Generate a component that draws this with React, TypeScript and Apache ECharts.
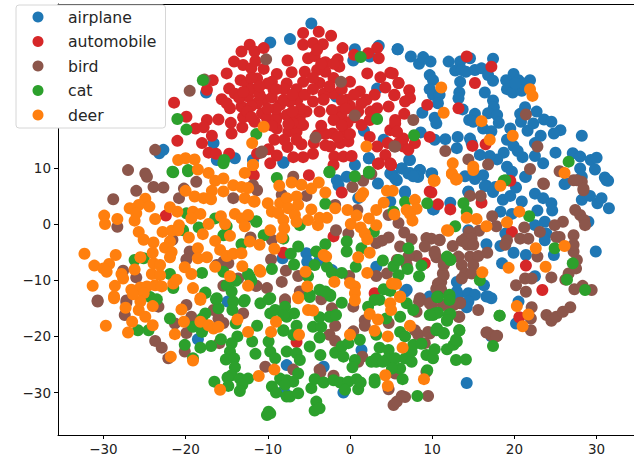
import React, { useEffect, useRef } from "react";
import * as echarts from "echarts";

const classNames = ["airplane", "automobile", "bird", "cat", "deer"];
const xTicks = [-30, -20, -10, 0, 10, 20, 30];
const yTicks = [-30, -20, -10, 0, 10];

const airplane = [[5.8,31.1],[7.4,29.8],[8.4,28.5],[8.9,29.7],[9.8,28.9],[12,28.9],[13.4,28.9],[14.6,29.5],[17.4,29.4],[12.8,27.3],[13.6,27.4],[14.1,27.1],[13.4,25.3],[15.2,27.4],[16,27.7],[16.8,26.5],[17.4,25.5],[9.7,26.5],[10.1,25.6],[9.7,24],[10.1,23],[10.9,23],[10.7,21.5],[8.8,19.8],[10.3,18.9],[10.5,17.9],[13.3,23.4],[13.2,22.4],[13.7,20.4],[16.4,23.4],[17.4,22],[17.5,20.8],[15.2,19.6],[14.5,18.5],[15,18.2],[16.8,19.7],[17.9,19.4],[18.1,18],[16.2,17],[17.2,16.5],[19.9,26.7],[19,25.6],[20.5,25.6],[21.9,25.6],[19.1,24],[19.8,23.4],[21.1,25],[20.9,23.7],[20.1,25],[21.3,20.8],[22.7,20],[20.7,19.6],[20.8,18.2],[21.6,16.6],[22.3,17.9],[23.6,18.6],[24.5,18.2],[25.6,16.7],[24.8,16.1],[19.5,17],[19.1,15],[22.5,14.4],[23.2,15.7],[28.2,15.7],[19.9,13.9],[20.4,13],[21,11.9],[22.5,12.1],[23.5,10.8],[25,12.7],[27.1,12.6],[28,12],[29.3,11.4],[30,11.8],[28,9.9],[29.8,9.7],[28.2,8.4],[31,8.3],[31.4,7.7],[26.2,7.2],[21.3,8.4],[19.1,10.2],[19.7,9.3],[18.7,12.7],[17.9,11.5],[17,12.1],[15.8,12.3],[14.6,15.2],[14.8,14.4],[13.1,15.5],[13,13.5],[11.6,15.1],[10.3,15],[8.6,16.3],[7.3,11.4],[6.3,9.9],[7.3,9.1],[8.5,9.6],[8.2,8.4],[10,9],[14,8.5],[15.2,8],[16.2,8.7],[16.6,6.8],[17.7,6.6],[14.4,5.8],[5.2,8.7],[5.7,7.8],[6.7,5.8],[16.4,6.75],[17.4,5.7],[18.6,4.3],[19.5,5],[20.2,6.5],[21.4,8.4],[20.9,4],[22.5,5.4],[23.5,4.6],[24.5,3.7],[24.6,2.4],[22.8,2.4],[18.3,2.2],[19.7,1.8],[14.4,5.7],[12.2,3.8],[10.2,2.6],[22.5,-0.2],[23.7,0.4],[23.9,-1.7],[23.7,-2.9],[18.9,-1.7],[18.3,-3.9],[19.9,-5.1],[21.4,-5.5],[18.5,-7],[22.5,-9.3],[24.8,-5.5],[29.9,-4.9],[28.2,4.3],[30.1,3.7],[30.6,4.6],[31.5,2.8],[29.2,5],[29,0.4],[26.1,7.1],[31.2,7.8],[16.6,-3.6],[14.4,-1.1],[13,-10.3],[16.3,-10.9],[13,-12],[13.2,-12.6],[14.4,-12.3],[15.2,-12.6],[16.6,-12.9],[17.2,-13.2],[14.4,-13.8],[14.2,-14.8],[20.5,-13.8],[20.2,-17.7],[9.7,-13],[-4.7,35.7],[-7.3,32.9],[-9.7,32.3],[0.6,31.1],[3.5,31.7],[5.8,31.1],[0.4,29.1],[2.4,29.8],[-17.5,23.4],[3.3,24.1],[1.7,16.6],[-16.6,14.4],[-16.2,11.4],[-14,11.7],[-8.1,11],[-11.8,11.4],[0.6,10.5],[2.3,11.7],[4.1,15],[-1.7,22.7],[-22.7,13.2],[-23.2,12.6],[-8.1,10.9],[2.3,11.7],[7.2,11.4],[-1.6,7.8],[-1.4,6.9],[-0.4,8.4],[6.3,9.9],[4.9,9],[5.5,8.1],[7.1,9],[8.5,9.6],[8.3,8.4],[7.7,8.5],[9.9,9],[3.4,7.2],[6.7,5.5],[4.9,4],[10.1,2.6],[1,4.6],[-5.3,-5.2],[-5.2,-6.7],[-8.2,-6.1],[3.2,-7.6],[-2.2,-8.2],[-3.7,-6.4],[6.9,-11.7],[-18.5,-20.5],[-14.9,-13.8],[-7.7,-25.1],[-7.9,-30.1],[14.2,-28.3],[-0.8,-30],[-3.2,-25.4],[1.4,-22.4],[-8.1,-29.8],[6.7,-12],[9.7,-12.9],[16.8,-12.9],[20.4,-17.5],[17.2,-20]];

const automobile = [[-21.4,21.6],[-19.9,19.1],[-21,14.8],[-18,14.4],[-16.8,15.7],[-17.2,12.7],[-16.3,12.5],[-14.7,12.5],[-17.4,18.5],[-16,18.6],[-18.8,17],[-17.8,17.2],[-14.5,18],[-14.4,16.1],[-13.1,17.2],[-15.6,22.2],[-14.7,24.1],[-14.6,20.6],[-13.2,20.9],[-14,23.2],[-13.3,25.6],[-12.5,25],[-11.3,25.9],[-15,26.8],[-14.1,28.9],[-13.2,30.7],[-12.2,31.9],[-11.6,30.7],[-10.5,31.3],[-13,28.3],[-12,27.7],[-10.5,27.6],[-8.9,26.7],[-9.5,25.3],[-7.7,25],[-7.1,27],[-7.6,29.1],[-5.7,34],[-5.7,31.9],[-3.8,34.2],[-4.5,32.2],[-3.3,32],[-2.3,33.5],[-5.1,29.5],[-4.3,29.9],[-3,28.8],[-1.5,29.3],[-0.9,31.3],[-1.3,28],[-5.5,27.1],[-4,27.4],[-3,27.1],[-5.7,25.3],[-3.7,25.1],[0.5,30.1],[3.3,31.3],[3.5,29.5],[2.2,30.4],[2.1,26.8],[3.7,26.1],[4.9,26.9],[5.9,25.1],[4.3,24.3],[5.4,23],[-2,23.2],[-3.2,23.2],[0,25.3],[1.2,23.6],[-0.4,22.1],[2,22.1],[1.4,21.5],[4.7,20.9],[3.3,20.6],[2.4,18.5],[1.4,17.6],[-1.2,20],[-2.2,20.3],[-3.7,20],[-4.5,21.8],[-3.2,22.1],[-5.3,20],[-6.1,19.1],[-6.4,22.1],[-7.3,21.8],[-8.5,21.2],[-7.7,19.4],[-8.9,19.1],[-10.5,22.1],[-11.3,21.5],[-10.7,19.7],[-11.6,18.2],[-10.1,18.8],[-8.9,17],[-5.7,17.6],[-7.5,16.4],[-6.5,16.4],[-9.2,15],[-5.9,14.2],[-7.6,13.7],[-4.4,14.4],[-4,15.8],[-2.1,16.1],[-0.7,16.3],[-2.4,13.8],[-1.2,14.4],[-0.2,14.7],[-1.9,12],[-0.8,12],[0.2,12.1],[-2,10.5],[-4.5,12.5],[-5.7,11.9],[-6.9,11.9],[-8.9,12.2],[-9.9,13.3],[-11.3,12.5],[-9.7,10.8],[2.4,15.5],[3.3,13.8],[4.3,12.3],[3.5,10.8],[4.9,10.8],[4.6,14.4],[5.5,18.5],[4.9,16.7],[5.7,16.4],[5.9,14.4],[6.5,13.8],[-12.4,22.7],[-9.3,23.9],[-8.1,22.1],[-17.4,23.9],[-16.7,25.6],[-12,24],[-10,25],[-11,23],[-8,24],[-6.5,24],[-2,26],[-1,24],[0,21],[-1,19],[0.5,19],[-0.3,18],[-9,20.5],[-6,18],[-7,18],[-9,18.5],[-12,21],[-13.5,22.5],[-15,21.5],[-2,18.5],[-3,16],[-3.5,28.5],[-13,19],[-12.5,20],[-12,19],[-10,20.5],[-9.5,22.5],[-11,24.5],[-9,24],[-7,23],[-5.5,23],[-4.5,24],[-2.5,24.5],[-1,22],[0.5,23],[-0.5,20.5],[-1,17.5],[0,16],[1,20],[2.5,20],[3,23],[-6,20.5],[-7,20],[-9.5,17.5],[-7.5,17.8],[-6.5,15],[-8,15],[-3,14],[-1.5,15.5],[-3.5,17.5],[-13,23.5],[-12,26],[-11.5,29],[-4.5,26],[-2,28.5],[-4,31],[14.2,29.8],[17.2,28],[15.2,25.1],[13.2,20.6],[9.4,21.2],[7.2,23.8],[7.3,22.4],[6.7,21.8],[6.6,19.6],[5.9,25.1],[5.2,26.8],[5.4,22.9],[5.5,17.9],[6.5,15.2],[7.9,14.4],[7.1,13.2],[9.7,15.5],[14.9,13.9],[16.5,14.2],[19.5,7.7],[9.7,5.8],[5,10.5],[5.7,16.4],[10.7,3.5],[12.2,2.6],[16,3.8],[19.7,-1.4],[21.4,-7.4],[23.4,-11.75],[20.6,-16.6],[9.9,5.6],[-5,8.7],[-1,5.6],[3.4,10.7],[4.9,10.7],[-2,-2.2],[-8.1,-5.1],[3,-12.3],[-11.7,8.7],[9.1,-7],[-22.4,1.5],[-6.5,-21]];

const bird = [[23.6,7.1],[27.2,7.8],[28.2,7.5],[28.4,6],[14.6,5],[15.9,5],[27.4,2.5],[28,1.6],[28.5,0.7],[28.6,-0.2],[25.9,0.4],[24.9,-0.2],[17.3,1.4],[17.8,-0.4],[15.7,-1.2],[14.5,-1.4],[14,-2.6],[14.8,-2.6],[13.6,-3],[14.3,-3.7],[15,-3.7],[12.5,-3.9],[10.9,-2.9],[9.9,-2.6],[10.3,-4.9],[10.5,-5.9],[11.5,-7],[13.2,-5.8],[14.6,-5.8],[15.6,-5.7],[16.7,-5.1],[15,-7.3],[13.6,-7.3],[14,-8.8],[14.8,-8.8],[13.6,-9.7],[11.3,-8.8],[11.1,-10.3],[10.5,-11.5],[13.4,-14],[12.4,-14.4],[11.3,-14.4],[9.9,-14.4],[13.2,-16.5],[15.6,-15.3],[16.6,-19.3],[17.2,-19.8],[17.9,-19.9],[9.7,-19.5],[20.2,-10.9],[21.4,-12.05],[21.3,-9.7],[22.1,-9.7],[24.5,-9.5],[22.1,-14.8],[22,-16.8],[22,-18.9],[23.9,-16.2],[24.5,-17.2],[25.1,-16.5],[25.9,-15.6],[26.8,-14.8],[26.2,-9.9],[27.3,-11.6],[28.3,-11],[29.4,-11.75],[26.6,-8.8],[27.5,-7.9],[27.6,-6.4],[27.2,-4.9],[27.2,-2],[27.2,-3.7],[25.5,-2.3],[25.1,-2.3],[23.1,-1.4],[21.2,-0.6],[20.7,-2.6],[21.7,-2.6],[19.1,-2.9],[18.9,-3.7],[22.8,-5.8],[7.7,18.5],[5.5,13.8],[11.6,13],[14.4,11.5],[16.8,10.6],[21.4,19.5],[22.8,13.8],[21.9,9.8],[25.5,9.4],[23.5,7.2],[27.6,7.8],[28.4,6.3],[-10.2,29.3],[-19.5,23.7],[-17.7,25.7],[-1.1,25.3],[0.6,19.3],[-4.2,15.4],[-10.7,12.9],[5.4,13.8],[-23.7,13.2],[-27,9.6],[-24.9,9],[-24.7,8.4],[-23.9,6.6],[-22.7,6.5],[-26,5.9],[-28.8,4.4],[-20.2,6.3],[-20.8,4.6],[-18.7,7.5],[-14.2,4.6],[-28.3,-0.5],[-21.6,-2.8],[-19.5,-4.9],[-19.9,-6.3],[-27.6,-8.3],[-26,-9.5],[-30.7,-13.6],[-14.8,-7],[-15.4,-6.7],[-16.2,-7.3],[-12.4,1.3],[-12.1,-2.4],[-13.6,-9.7],[-15.4,-11],[-11.4,-11],[-11.8,6.9],[-27.2,-13.6],[-10.8,12.7],[-6.9,8.4],[0.3,6.6],[1.6,7.7],[2.6,8.9],[-11.3,6],[-8.3,5.2],[-5.3,5],[-1.7,-1.1],[-0.2,-1.7],[-1.8,3.4],[0.9,2.5],[4.7,1.6],[5.9,0.2],[6.6,-1.5],[3.2,-3.4],[4.7,-2.4],[3.9,-2.96],[6.1,-4],[7.5,-2.7],[9.3,-2.5],[9.1,-4],[10.9,-2.8],[10.3,-5.2],[8.1,-5.7],[7.1,-5.8],[5.7,-6.4],[4.5,-8.8],[3.2,-9.25],[6.9,-7.3],[-9.5,-2.8],[-9.6,-6.3],[-7.8,-8.3],[-8.3,-10.3],[-6.3,-9.25],[-10.1,-11.4],[-11.4,-11],[-6.1,-12],[-0.1,-9.25],[-7.9,-13.4],[11.4,-9.1],[10.7,-10.6],[11.4,-7.3],[11.1,-11.7],[8.5,-13.2],[-7.9,-13.8],[-3.5,-13.4],[-2.2,-15],[-1.8,-18.1],[-2.5,-19.7],[-1.8,-20.8],[0.4,-14.7],[1.8,-17.1],[1.8,-18.1],[4.7,-17.6],[0.4,-19.1],[1.5,-23.6],[-6.9,-25.9],[-3.7,-25.9],[-3.6,-26.4],[-2,-27],[5.3,-32.2],[5.7,-31.6],[6.3,-30.6],[6.7,-30.8],[9.5,-30.6],[4.7,-29.4],[5.5,-26.6],[9.3,-26.3],[7.9,-18.9],[8.3,-19.7],[9.5,-19.2],[8.1,-15.6],[8.4,-13.8],[9.7,-14.1],[11.4,-14.4],[13.4,-14.1],[12.6,-14.4],[13.3,-16.5],[16.7,-19.3],[17.8,-20],[1,-24.5],[9.1,-21.2],[-30.7,-13.8],[-27.2,-14],[-27.4,-16.2],[-19.9,-14.4],[-19.3,-16.5],[-21.3,-17.7],[-19.9,-19.4],[-23.7,-20.8],[-22.9,-22],[-22.1,-23.9],[-20.1,-22.7],[-16.6,-15.3],[-16,-16.8],[-15.4,-17.6],[-15.9,-21.2],[-13,-15.9],[-10.3,-25.4],[-23.3,-14.7]];

const cat = [[-21.9,-16.8],[-25.8,-18.9],[-24.5,-18.9],[-17.6,-12.3],[-16.3,-13.4],[-16,-15],[-17.6,-15.9],[-18,-16.8],[-19.1,-18.3],[-18,-19.2],[-20.1,-21.5],[-18.2,-22],[-16.9,-21.7],[-19.1,-23.9],[-15.7,-20.5],[-14.2,-13.8],[-14.3,-15.3],[-12.9,-13.8],[-10.9,-14.1],[-9.9,-13.4],[-9.7,-15.9],[-9.1,-15.3],[-13.9,-17.7],[-11.3,-18.1],[-8.1,-18.9],[-7.7,-16.5],[-13.7,-20],[-14.4,-21.2],[-11.9,-20.9],[-9.9,-20.9],[-9.7,-22.7],[-11.5,-23.1],[-14.6,-22.7],[-15.1,-24.1],[-14.1,-23.9],[-14,-25.5],[-14.4,-26.9],[-14.9,-27.3],[-13.4,-27.5],[-12.4,-27.5],[-13.1,-28.6],[-13.4,-29.7],[-14.8,-28.8],[-16.5,-28.05],[-9.5,-28.9],[-9,-30],[-8.5,-27.5],[-7.7,-27.8],[-9.1,-23.9],[-9.7,-33.7],[-10.1,-34],[-9.9,-33.4],[-7.7,-22.7],[-7.7,-30.7],[-7.9,-14.7],[-6.8,-15.9],[-8.1,-16.2],[-8.1,-19],[-6.5,-18.1],[-6.9,-19.7],[-6.5,-23],[-6.1,-24.2],[-4.9,-21.8],[-3.6,-23.3],[-3.7,-20.2],[-4.5,-18.3],[-3.5,-18.3],[-3.7,-16.6],[-2.5,-16.5],[-1.7,-16.2],[-1,-14],[-4.9,-12.6],[-2.4,-12.8],[-1.8,-22.9],[-1,-21.8],[-0.2,-21.2],[1.2,-20.6],[-0.8,-23.6],[0.6,-24.2],[0.3,-25.5],[-6.3,-26.6],[-8.3,-27.8],[-6.9,-28.05],[-7.9,-28.6],[-4.7,-29.2],[-4.3,-27.6],[-3.2,-28.2],[-2,-27.8],[-1.2,-28.2],[-0.2,-28.05],[0.8,-27.6],[-0.6,-29.5],[1,-29.4],[1.3,-28.2],[-7.3,-30.7],[-6.3,-30.1],[-4.1,-31.6],[-4.3,-33.2],[-3.7,-32.8],[3,-27.6],[3,-28.2],[3.2,-24.5],[2.6,-24.5],[3.6,-22],[3.2,-23.9],[4.7,-22.4],[4.5,-24.1],[5.5,-23.9],[6.1,-25.7],[5.1,-25.7],[6.4,-27.6],[8.2,-30.6],[4,-24.5],[6.7,-23.9],[7.5,-24.5],[7.5,-22.7],[7.7,-21.5],[8.7,-21.3],[9.3,-23.3],[10.1,-23.9],[10.3,-22.3],[9.4,-26],[6.1,-19.2],[6.7,-20],[6.1,-16.5],[6.9,-14.1],[7.7,-15.3],[10.1,-16.2],[10.7,-15.8],[11.8,-17.2],[12.2,-16],[10.5,-18.9],[11.4,-19.4],[13.3,-18.9],[11.8,-22.3],[12.6,-21.5],[13,-20.9],[12.9,-24.2],[14.1,-24.1],[18.2,-16.3],[17.4,-21.7],[10.7,-12.9],[12.1,-12.9],[2.2,-14.7],[3,-13.5],[3.6,-13.5],[4.4,-16.8],[3.2,-19.7],[-2.5,9.2],[0.6,8.5],[2.3,9.1],[-8.9,8.2],[-3,3.6],[-11.4,0.4],[-6.1,-0.2],[6.7,3.9],[9.4,3.7],[5.3,2.2],[2.9,-1.4],[-0.4,-3.1],[-0.4,-4.9],[1.4,-4.3],[0.7,-7.6],[-3,-3.6],[-6.3,-4],[-7.2,-5.3],[-6.8,-7.2],[-9.5,-8],[-4.1,-4.9],[-4.3,-7.3],[-2.8,-7.6],[-5.1,-9.3],[-2.2,-8.7],[-1,-8.7],[4,-6.5],[5.3,-7.5],[5.9,-6.4],[7,-8],[8.7,-7.4],[8.4,-9.3],[7.1,-4.3],[-10.5,-2],[-8.1,-2.6],[-12.2,-9.4],[4.1,-11.6],[5.9,-9.1],[-3.7,-11.7],[-2.4,-12.6],[-4.9,-13],[-3,-12],[-9.7,-13.2],[10.7,-13],[12.2,-6.4],[4.9,-11.9],[-21.5,9.2],[-19.7,9.4],[-19.9,1.9],[-16.4,1],[-18.4,-0.6],[-20.3,-1.1],[-15,-0.4],[-11.4,0.5],[-15.4,-2],[-13.2,-3.6],[-26.2,-6.4],[-25.1,-6.1],[-18,-8.7],[-15.4,-8.5],[-12.4,-8.9],[-21.9,-8.9],[-13.9,-10.1],[-12,-10.1],[-15,-10.9],[-14.4,-12],[-17.6,-12.2],[-16.2,-13.2],[-12.8,-13.5],[-21.5,-11.4],[-24.3,-13],[-23.5,-13.4],[-17.9,25.6],[-21,18.7],[-19.9,16.8],[1.3,29.7],[3.3,18.7],[-11.4,16],[-15.4,10.8],[-15.3,11.4],[-2.5,9.3],[2.3,9.3],[-21.6,9.3],[-19.7,9.6],[7.8,15.8],[26.6,11.1],[18.7,7.7],[18.9,7.8],[13.8,3.7],[14.2,2.2],[12.8,-0.4],[21.8,1.4],[12.2,-6.3],[11.8,-5.8],[24.9,-4.3],[27.1,-7],[26.4,-9.9],[28.6,-11.75],[15.8,-10],[10.6,-13],[12.1,-12.6],[12.1,-13.5],[10.3,-15.9],[12,-16.2],[11.8,-17.1],[18.2,-16.3],[10.6,-18.6],[11.4,-19.5],[13.3,-18.9],[12.9,-20.6],[9.7,-16.2]];

const deer = [[-20.9,11.4],[-20,11.7],[-18.9,11.5],[-18.5,9.7],[-17.2,9.1],[-16.4,7.7],[-15.4,8.1],[-14.2,6.9],[-15.4,5.8],[-13.2,6.6],[-12.4,6.4],[-16.8,5.9],[-20,5.9],[-18.9,4.9],[-17.8,4.6],[-16.9,4.4],[-12.8,9.1],[-11.8,10.5],[-12.8,4.6],[-11.6,4],[-24.9,4.5],[-25.7,3.4],[-26.8,2.8],[-24.4,3.1],[-26,1.9],[-26.2,0.6],[-23.7,0.9],[-21.9,3],[-21,2.2],[-29.9,1.5],[-29.8,0],[-28.3,0.9],[-25.7,-1.4],[-25.1,-2.8],[-23.9,-3.3],[-22.8,-1.4],[-21.7,-1.2],[-20.8,-0.2],[-20.9,-1.1],[-19.6,-2.4],[-19.1,2.2],[-18.2,1.8],[-19.3,1],[-17.2,0],[-17.9,-1.8],[-15.7,1.4],[-15.2,0],[-14.6,-2.1],[-14,1.8],[-13.2,1],[-12.4,1.6],[-12.8,-0.4],[-16.4,-3],[-21.9,-3.1],[-22.5,-4.2],[-21.7,-5],[-24,-5.1],[-25.5,-5.9],[-21.9,-5.9],[-32.3,-5.3],[-28.5,-5.5],[-31.1,-7.4],[-29.3,-7.1],[-30,-7.9],[-29.6,-8.5],[-26.2,-8.1],[-23.9,-7],[-23.1,-7.3],[-24.1,-8.9],[-23.1,-9.1],[-27.8,-8.9],[-27.6,-9.7],[-31.3,-11],[-28.6,-11],[-26.6,-11.7],[-25.5,-11.3],[-24.7,-11.1],[-23.7,-10.9],[-22.9,-11.1],[-25.1,-12.3],[-21.5,-10.6],[-21.1,-9.9],[-28.7,-12.9],[-20.1,-7.7],[-19.3,-8.9],[-18.5,-4.3],[-18.5,-6.1],[-17.4,-5.9],[-15.8,-4.6],[-15,-5.7],[-14.2,-5.3],[-13.2,-5.2],[-12.2,-3.1],[-16.4,-7.6],[-13.1,-7.5],[-14.6,-9.3],[-12.4,-11],[-19.1,-11.4],[-18.2,-13.2],[-11,-8.2],[-8.6,6.8],[-7.1,7.4],[-5.9,7],[-4.7,6.3],[-3.8,7.4],[-3,5.6],[-11.7,4],[-10,3.7],[-9.5,2.2],[-8.5,3.7],[-7.7,4.6],[-6.5,4.9],[-6.3,3.4],[-7.5,2.8],[-8.7,1.9],[-8.1,0.7],[-6.7,1.6],[-4.7,2.6],[-5.1,0.7],[-6.5,0.4],[-3.9,-0.2],[-3.7,1.1],[-2.8,1.1],[-1.8,2.8],[-8,-0.8],[-9.7,-1.1],[-8.3,-2.4],[-11,-3.7],[-9.2,-4.4],[-10.9,-8.5],[-0.3,2.5],[0.8,1.5],[0.1,0],[1.6,5.5],[1.3,4.9],[1.3,-0.6],[1.8,-1.7],[2.1,-2.7],[2.3,1],[3.2,2.5],[3.2,-0.2],[4.1,3.8],[4.5,5.9],[5.2,5.9],[5.4,1.7],[6.9,2.5],[7.9,4.3],[8.1,2.7],[7.3,1.8],[7.6,0.6],[10.2,7.8],[11.8,-1.1],[-3.2,-5.5],[-2.9,-5.8],[1,-5.9],[2.4,-5.1],[2.1,-8.7],[-5.4,-8.5],[-5.2,-11.1],[-1.9,-10.3],[0,-10.5],[0.6,-11.1],[0.6,-12.3],[-6.3,-13],[5.1,-10.6],[5.6,-10.7],[6.1,-13],[10.2,7.7],[12.4,8.9],[12.9,7.9],[18.3,6.8],[26.1,9.1],[20.6,2.2],[14.2,1.1],[15.4,0.9],[16.6,-0.4],[19.1,0.3],[11.96,-1.2],[22.6,-4.3],[26.1,-3.9],[19.3,-7.8],[23.8,-7.6],[16.1,-8.6],[20.3,-14.6],[21.7,-16.1],[21,-18.2],[15,9.6],[11.1,24.3],[11.4,19.8],[16,18.3],[17,15],[19.8,15.7],[21.9,24],[22.2,22.8],[12.5,10.8],[15,10.2],[12.4,9],[13,8],[10.3,7.7],[-10.5,17.3],[-11.9,14.4],[2,13.8],[-11.8,10.5],[-29.7,-18.1],[-27,-19.3],[-26.5,-17.4],[-27.3,-14.9],[-28.7,-13.2],[-25.7,-15.3],[-24.9,-16.5],[-24,-18],[-24,-14.6],[-25.5,-13.8],[-26.4,-12.5],[-20.5,-15.2],[-20.2,-17.4],[-21.3,-19.6],[-18.2,-13.5],[-18.2,-17.4],[-17.2,-18],[-16.6,-18.6],[-16,-18.3],[-13.7,-17],[-12.4,-19.2],[-21.8,-23.6],[-19.1,-24.3],[-15.8,-29.5],[-11.1,-27.05],[-9.6,-19.2],[-9,-17.4],[-9.2,-25.9],[-6.3,-13.2],[-5.1,-15.3],[-4.5,-15.4],[-6.2,-19.7],[0.6,-13.6],[0,-19.7],[2.4,-16],[3.4,-17],[3,-19],[4.6,-20],[4.9,-14.1],[5,-15.3],[6.1,-12.9],[7.3,-18.1],[6.4,-22],[4.3,-26.9],[4.6,-28.8],[9,-27.6]];

const seriesValues = [airplane, automobile, bird, cat, deer];
const colors = ["#1f77b4", "#d62728", "#8c564b", "#2ca02c", "#ff7f0e"];

export default function App() {
  const ref = useRef<HTMLDivElement>(null);
  useEffect(() => {
    const chart = echarts.init(ref.current, undefined, { renderer: "svg" });
    const font = "'DejaVu Sans', sans-serif";
    const fmt = (v: number) => String(v).replace("-", "\u2212");
    chart.setOption({
      animation: false,
      backgroundColor: "#ffffff",
      grid: { left: 58, right: 0, top: 4, bottom: 31, containLabel: false },
      legend: {
        show: true,
        orient: "vertical",
        left: 16,
        top: 5,
        padding: [4, 9, 5, 16.5],
        itemGap: 8.5,
        itemWidth: 11,
        itemHeight: 11,
        icon: "circle",
        selectedMode: false,
        backgroundColor: "#ffffff",
        borderColor: "#d6d6d6",
        borderWidth: 1,
        borderRadius: 3,
        data: classNames,
        textStyle: {
          fontFamily: font,
          fontSize: 15.7,
          lineHeight: 14,
          color: "#262626",
          padding: [0, 0, 0, 19.5],
        },
      },
      xAxis: [
        {
          type: "value",
          min: -35.52,
          max: 34.55,
          splitLine: { show: false },
          axisLine: { show: true, onZero: false, lineStyle: { color: "#000", width: 1 } },
          axisTick: { show: true, length: 4, customValues: xTicks, lineStyle: { color: "#000" } },
          axisLabel: { show: true, customValues: xTicks, formatter: fmt, fontFamily: font, fontSize: 13.5, color: "#222", margin: 7 },
        },
        {
          type: "value",
          position: "top",
          min: -35.52,
          max: 34.55,
          splitLine: { show: false },
          axisLine: { show: true, onZero: false, lineStyle: { color: "#000", width: 1 } },
          axisTick: { show: false },
          axisLabel: { show: false },
        },
      ],
      yAxis: {
        type: "value",
        min: -37.54,
        max: 39.15,
        splitLine: { show: false },
        axisLine: { show: true, onZero: false, lineStyle: { color: "#000", width: 1 } },
        axisTick: { show: true, length: 4, customValues: yTicks, lineStyle: { color: "#000" } },
        axisLabel: { show: true, customValues: yTicks, formatter: fmt, fontFamily: font, fontSize: 13.5, color: "#222", margin: 7 },
      },
      series: classNames.map((name, i) => ({
        name,
        type: "scatter",
        xAxisIndex: 0,
        yAxisIndex: 0,
        symbol: "circle",
        symbolSize: 12,
        itemStyle: { color: colors[i], opacity: 1 },
        emphasis: { disabled: true },
        data: seriesValues[i],
      })),
    });
    return () => chart.dispose();
  }, []);
  return <div ref={ref} style={{ position: "absolute", left: 0, top: 0, width: 634, height: 466 }} />;
}
